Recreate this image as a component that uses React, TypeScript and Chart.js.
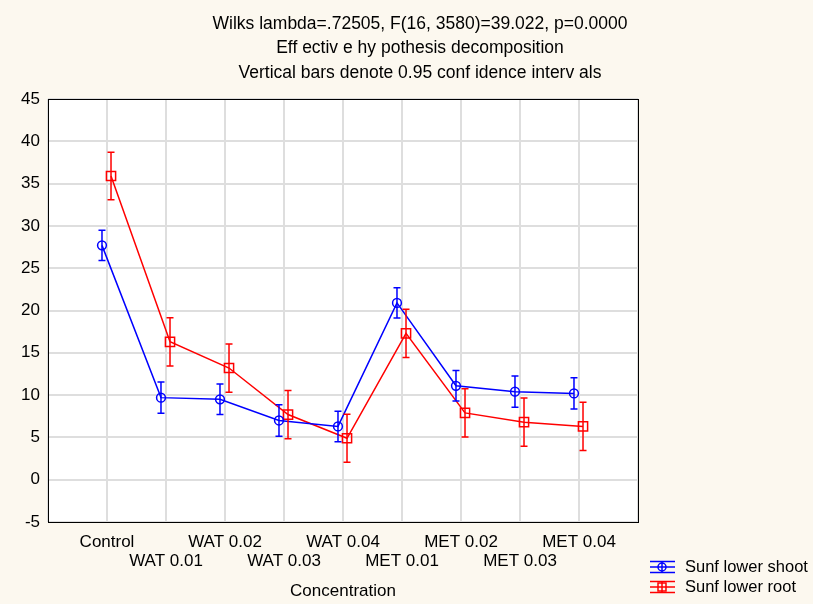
import React, { useEffect, useRef } from "react";
import { Chart, registerables } from "chart.js";

Chart.register(...registerables);

const categories = ["Control", "WAT 0.01", "WAT 0.02", "WAT 0.03", "WAT 0.04", "MET 0.01", "MET 0.02", "MET 0.03", "MET 0.04"];
const shootMean = [27.7, 9.7, 9.5, 7.0, 6.3, 20.9, 11.1, 10.4, 10.2];
const shootErr = [1.8, 1.85, 1.8, 1.85, 1.8, 1.8, 1.8, 1.85, 1.85];
const rootMean = [35.9, 16.3, 13.2, 7.7, 4.9, 17.3, 7.9, 6.8, 6.3];
const rootErr = [2.8, 2.85, 2.85, 2.85, 2.85, 2.85, 2.85, 2.85, 2.85];
const titleLines = [
  "Wilks lambda=.72505, F(16, 3580)=39.022, p=0.0000",
  "Eff ectiv e hy pothesis decomposition",
  "Vertical bars denote 0.95 conf idence interv als",
];
const seriesNames = ["Sunf lower shoot", "Sunf lower root"];
const xTitle = "Concentration";
const yTicks = { min: -5, max: 45, step: 5 };

const FONT = '"Liberation Sans", Arial, sans-serif';
const BG = "#fcf8ef";
const BLUE = "#0000ff";
const RED = "#ff0000";

const errs = [shootErr, rootErr];

const decorPlugin = {
  id: "decor",
  beforeDraw(chart: any) {
    const { ctx, chartArea: a } = chart;
    ctx.save();
    ctx.fillStyle = BG;
    ctx.fillRect(0, 0, chart.width, chart.height);
    ctx.fillStyle = "#ffffff";
    ctx.fillRect(a.left, a.top, a.right - a.left, a.bottom - a.top);
    ctx.restore();
  },
  afterDatasetsDraw(chart: any) {
    const { ctx } = chart;
    const ys = chart.scales.y;
    ctx.save();
    chart.data.datasets.forEach((ds: any, di: number) => {
      const meta = chart.getDatasetMeta(di);
      ctx.strokeStyle = ds.borderColor;
      ctx.lineWidth = 1.5;
      meta.data.forEach((pt: any, i: number) => {
        const v = ds.data[i].y;
        const e = errs[di][i];
        const x = pt.x;
        const yTop = ys.getPixelForValue(v + e);
        const yBot = ys.getPixelForValue(v - e);
        ctx.beginPath();
        ctx.moveTo(x, yTop);
        ctx.lineTo(x, yBot);
        ctx.moveTo(x - 3.5, yTop);
        ctx.lineTo(x + 3.5, yTop);
        ctx.moveTo(x - 3.5, yBot);
        ctx.lineTo(x + 3.5, yBot);
        ctx.stroke();
      });
    });
    ctx.restore();
  },
  afterDraw(chart: any) {
    const { ctx, chartArea: a } = chart;
    ctx.save();
    // frame
    ctx.strokeStyle = "#000";
    ctx.lineWidth = 1;
    ctx.strokeRect(Math.round(a.left) + 0.5, Math.round(a.top) + 0.5, Math.round(a.right - a.left), Math.round(a.bottom - a.top));
    // title
    ctx.fillStyle = "#000";
    ctx.font = "17.5px " + FONT;
    ctx.textAlign = "center";
    ctx.textBaseline = "middle";
    titleLines.forEach((t, i) => ctx.fillText(t, 420, 24 + i * 24.5));
    // x title
    ctx.font = "17px " + FONT;
    ctx.fillText(xTitle, (a.left + a.right) / 2, 591);
    // legend
    const items = [
      { name: seriesNames[0], color: BLUE, y: 567, marker: "circle" },
      { name: seriesNames[1], color: RED, y: 587, marker: "rect" },
    ];
    ctx.font = "16.5px " + FONT;
    items.forEach((it) => {
      ctx.strokeStyle = it.color;
      ctx.lineWidth = 1.5;
      const x0 = 650, x1 = 675, cx = 662;
      ctx.beginPath();
      ctx.moveTo(x0, it.y - 5.5); ctx.lineTo(x1, it.y - 5.5);
      ctx.moveTo(x0, it.y); ctx.lineTo(x1, it.y);
      ctx.moveTo(x0, it.y + 5.5); ctx.lineTo(x1, it.y + 5.5);
      ctx.moveTo(cx, it.y - 5.5); ctx.lineTo(cx, it.y + 5.5);
      ctx.stroke();
      ctx.beginPath();
      if (it.marker === "circle") ctx.arc(cx, it.y, 4, 0, Math.PI * 2);
      else ctx.rect(cx - 4, it.y - 4, 8, 8);
      ctx.stroke();
      ctx.fillStyle = "#000";
      ctx.textAlign = "left";
      ctx.fillText(it.name, 685, it.y + 0.5);
    });
    ctx.restore();
  },
};

export default function App() {
  const ref = useRef<HTMLCanvasElement>(null);
  useEffect(() => {
    document.body.style.margin = "0";
    const chart = new Chart(ref.current!, {
      type: "line",
      data: {
        datasets: [
          {
            label: seriesNames[0],
            data: shootMean.map((y, i) => ({ x: i - 0.085, y })),
            borderColor: BLUE,
            backgroundColor: "transparent",
            borderWidth: 1.5,
            pointStyle: "circle",
            pointRadius: 4.4,
            pointBorderWidth: 1.5,
            pointBackgroundColor: "transparent",
            pointBorderColor: BLUE,
            tension: 0,
          },
          {
            label: seriesNames[1],
            data: rootMean.map((y, i) => ({ x: i + 0.068, y })),
            borderColor: RED,
            backgroundColor: "transparent",
            borderWidth: 1.5,
            pointStyle: "rect",
            pointRadius: 6.5,
            pointBorderWidth: 1.5,
            pointBackgroundColor: "transparent",
            pointBorderColor: RED,
            tension: 0,
          },
        ],
      },
      options: {
        animation: false,
        responsive: false,
        maintainAspectRatio: false,
        layout: { padding: { top: 99, right: 175, left: 0, bottom: 0 } },
        plugins: { legend: { display: false }, tooltip: { enabled: false }, title: { display: false } },
        scales: {
          x: {
            type: "linear",
            min: -1,
            max: categories.length,
            afterBuildTicks: (s: any) => {
              s.ticks = [];
              for (let v = -1; v <= categories.length; v++) s.ticks.push({ value: v });
            },
            afterFit: (s: any) => { s.height = 82; },
            grid: { color: "#dedede", lineWidth: 2, drawTicks: false },
            border: { display: false },
            ticks: {
              autoSkip: false,
              maxRotation: 0,
              padding: 11,
              color: "#000",
              font: { family: FONT, size: 17, lineHeight: 1.12 },
              callback: (v: any) => {
                const i = Math.round(v);
                if (i < 0 || i >= categories.length) return "";
                return i % 2 === 0 ? [categories[i], ""] : ["", categories[i]];
              },
            },
          },
          y: {
            min: yTicks.min,
            max: yTicks.max,
            afterFit: (s: any) => { s.width = 48; },
            grid: { color: "#dedede", lineWidth: 2, drawTicks: false },
            border: { display: false },
            ticks: {
              stepSize: yTicks.step,
              padding: 8,
              color: "#000",
              font: { family: FONT, size: 17 },
            },
          },
        },
      },
      plugins: [decorPlugin],
    });
    return () => chart.destroy();
  }, []);
  return (
    <div style={{ width: 813, height: 604 }}>
      <canvas ref={ref} width={813} height={604} style={{ display: "block" }} />
    </div>
  );
}
